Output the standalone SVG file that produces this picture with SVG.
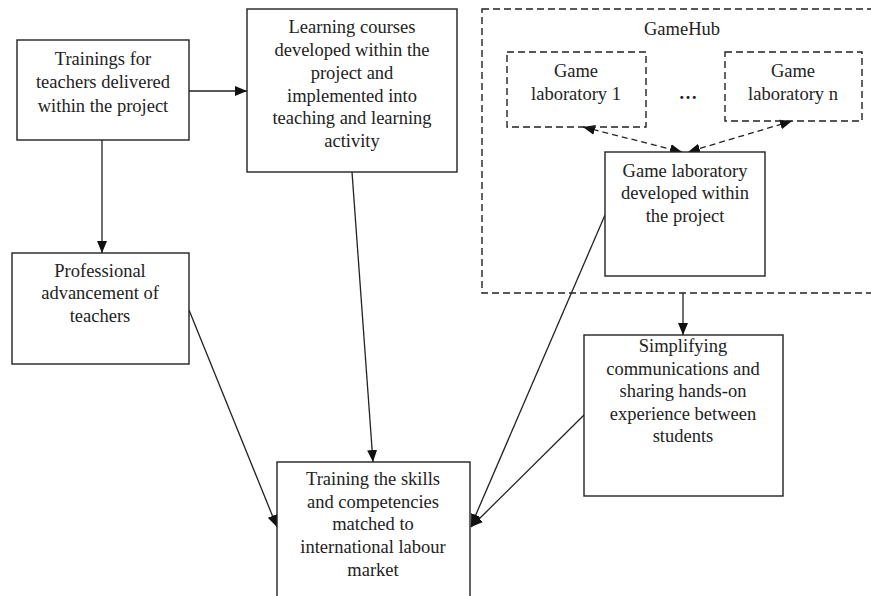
<svg xmlns="http://www.w3.org/2000/svg" width="871" height="596" viewBox="0 0 871 596">
  <style>
    .box { fill: #fff; stroke: #222; stroke-width: 1.4; }
    .dbox { fill: none; stroke: #222; stroke-width: 1.4; stroke-dasharray: 7 4; }
    .lbl { font-family: 'Liberation Serif', 'Times New Roman', Tinos, 'DejaVu Serif', serif; font-size: 18.5px; fill: #222; text-anchor: middle; }
    .edge { fill: none; stroke: #222; stroke-width: 1.3; }
    .dedge { fill: none; stroke: #222; stroke-width: 1.3; stroke-dasharray: 6 4; }
  </style>
  <defs>
    <marker id="arrow" viewBox="0 0 12 10" refX="12" refY="5" markerWidth="12" markerHeight="10" markerUnits="userSpaceOnUse" orient="auto-start-reverse">
      <path d="M0,0 L12,5 L0,10 z" fill="#111"/>
    </marker>
  </defs>
  <rect width="871" height="596" fill="#fff"/>

  <g id="gamehub">
    <rect class="dbox" x="482" y="9" width="400" height="284"/>
    <text class="lbl" x="682" y="35">GameHub</text>
  </g>

  <g id="connectors">
    <line class="edge" x1="189" y1="91" x2="247" y2="91" marker-end="url(#arrow)"/>
    <line class="edge" x1="102" y1="140" x2="102" y2="253" marker-end="url(#arrow)"/>
    <line class="edge" x1="189" y1="310" x2="277" y2="527" marker-end="url(#arrow)"/>
    <line class="edge" x1="352" y1="172" x2="373" y2="462" marker-end="url(#arrow)"/>
    <line class="edge" x1="605" y1="215" x2="471" y2="526" marker-end="url(#arrow)"/>
    <line class="edge" x1="584" y1="415" x2="471" y2="527" marker-end="url(#arrow)"/>
    <line class="edge" x1="683" y1="293" x2="683" y2="335" marker-end="url(#arrow)"/>
    <line class="dedge" x1="583" y1="127" x2="682" y2="152" marker-start="url(#arrow)" marker-end="url(#arrow)"/>
    <line class="dedge" x1="792" y1="121" x2="688" y2="152" marker-start="url(#arrow)" marker-end="url(#arrow)"/>
  </g>

  <g id="trainings-teachers">
    <rect class="box" x="17" y="40" width="172" height="100"/>
    <text class="lbl" x="103" y="65">Trainings for</text>
    <text class="lbl" x="103" y="88">teachers delivered</text>
    <text class="lbl" x="103" y="112">within the project</text>
  </g>

  <g id="learning-courses">
    <rect class="box" x="247" y="9" width="210" height="163"/>
    <text class="lbl" x="352" y="33">Learning courses</text>
    <text class="lbl" x="352" y="56">developed within the</text>
    <text class="lbl" x="352" y="79">project and</text>
    <text class="lbl" x="352" y="102">implemented into</text>
    <text class="lbl" x="352" y="124">teaching and learning</text>
    <text class="lbl" x="352" y="147">activity</text>
  </g>

  <g id="professional-advancement">
    <rect class="box" x="12" y="253" width="177" height="111"/>
    <text class="lbl" x="100" y="277">Professional</text>
    <text class="lbl" x="100" y="299">advancement of</text>
    <text class="lbl" x="100" y="322">teachers</text>
  </g>

  <g id="game-lab-1">
    <rect class="dbox" x="507" y="52" width="139" height="75"/>
    <text class="lbl" x="576" y="77">Game</text>
    <text class="lbl" x="576" y="100">laboratory 1</text>
  </g>

  <g id="ellipsis">
    <text class="lbl" x="688" y="99" font-weight="bold">…</text>
  </g>

  <g id="game-lab-n">
    <rect class="dbox" x="725" y="52" width="137" height="69"/>
    <text class="lbl" x="793" y="77">Game</text>
    <text class="lbl" x="793" y="100">laboratory n</text>
  </g>

  <g id="game-lab-project">
    <rect class="box" x="605" y="152" width="160" height="124"/>
    <text class="lbl" x="685" y="177">Game laboratory</text>
    <text class="lbl" x="685" y="199">developed within</text>
    <text class="lbl" x="685" y="222">the project</text>
  </g>

  <g id="simplifying-communications">
    <rect class="box" x="584" y="335" width="199" height="161"/>
    <text class="lbl" x="683" y="352">Simplifying</text>
    <text class="lbl" x="683" y="375">communications and</text>
    <text class="lbl" x="683" y="397">sharing hands-on</text>
    <text class="lbl" x="683" y="420">experience between</text>
    <text class="lbl" x="683" y="442">students</text>
  </g>

  <g id="training-skills">
    <rect class="box" x="277" y="462" width="193" height="150"/>
    <text class="lbl" x="373" y="485">Training the skills</text>
    <text class="lbl" x="373" y="508">and competencies</text>
    <text class="lbl" x="373" y="530">matched to</text>
    <text class="lbl" x="373" y="553">international labour</text>
    <text class="lbl" x="373" y="576">market</text>
  </g>
</svg>
